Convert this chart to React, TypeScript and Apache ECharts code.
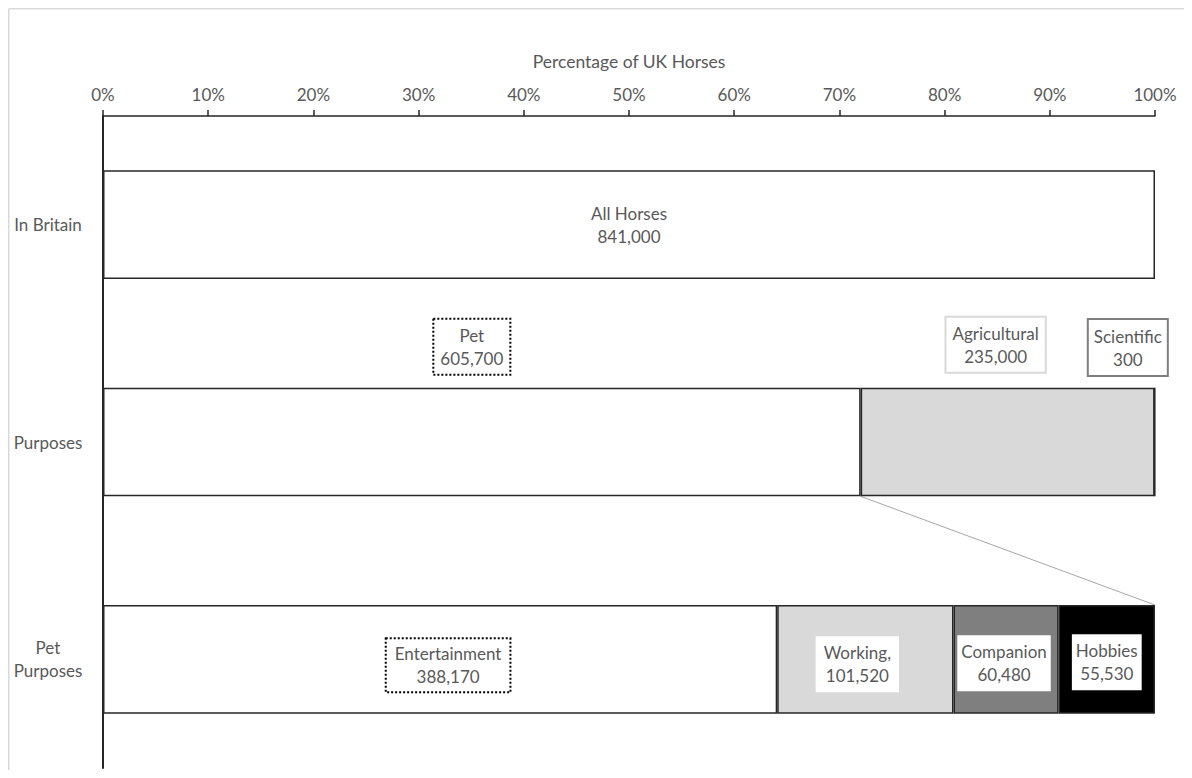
import React, { useEffect, useRef } from "react";
import * as echarts from "echarts";

const categories = ["In Britain", "Purposes", "Pet Purposes"];
const allHorsesLabel = "All Horses";
const allHorses = 841000;
const purposeNames = ["Pet", "Agricultural", "Scientific"];
const purposeValues = [605700, 235000, 300];
const petNames = ["Entertainment", "Working,", "Companion", "Hobbies"];
const petValues = [388170, 101520, 60480, 55530];
const tickLabels = ["0%", "10%", "20%", "30%", "40%", "50%", "60%", "70%", "80%", "90%", "100%"];

const FONT = "Lato";
const TXT = "#595959";
const EDGE = "#262626";

const fmt = (v: number) => v.toLocaleString("en-US");

function rowData(row: number, share: number) {
  return categories.map((_, i) => (i === row ? share : null));
}

export default function App() {
  const ref = useRef<HTMLDivElement>(null);
  useEffect(() => {
    if (!ref.current) return;
    const chart = echarts.init(ref.current, null, { renderer: "svg" });
    const purposeTotal = purposeValues.reduce((a, b) => a + b, 0);
    const petTotal = petValues.reduce((a, b) => a + b, 0);

    const baseLabel = {
      show: true,
      color: TXT,
      fontFamily: FONT,
      fontSize: 17,
      lineHeight: 23,
      align: "center" as const,
    };

    const purposeStyles = [
      { color: "#ffffff", label: { position: "top", distance: 13, offset: [-10, 0], borderType: "dotted", borderColor: "#000", borderWidth: 2, padding: [5, 7, 5, 7] } },
      { color: "#d9d9d9", label: { position: "top", distance: 15, offset: [-12, 0], borderColor: "#d9d9d9", borderWidth: 2, padding: [5, 7, 5, 7] } },
      { color: "#7f7f7f", label: { position: "top", distance: 11, offset: [-27, 0], borderColor: "#7f7f7f", borderWidth: 2, padding: [6, 6, 5, 6] } },
    ];
    const petStyles = [
      { color: "#ffffff", label: { position: "inside", offset: [8, 6], borderType: "dotted", borderColor: "#000", borderWidth: 2, padding: [4, 9, 4, 9] } },
      { color: "#d9d9d9", label: { position: "inside", offset: [-8, 5], backgroundColor: "#fff", padding: [5, 8, 5, 8] } },
      { color: "#7f7f7f", label: { position: "inside", offset: [-2, 4], backgroundColor: "#fff", padding: [5, 4, 5, 4] } },
      { color: "#000000", label: { position: "inside", offset: [0, 3], backgroundColor: "#fff", padding: [5, 4, 5, 4] } },
    ];

    const series: any[] = [];
    series.push({
      type: "bar",
      name: allHorsesLabel,
      stack: "all",
      barWidth: "50%",
      data: rowData(0, 1),
      itemStyle: { color: "#ffffff", borderColor: EDGE, borderWidth: 1.5 },
      label: { ...baseLabel, position: "inside", formatter: () => `${allHorsesLabel}\n${fmt(allHorses)}` },
    });
    purposeNames.forEach((n, i) => {
      series.push({
        type: "bar",
        name: n,
        stack: "all",
        barWidth: "50%",
        data: rowData(1, purposeValues[i] / purposeTotal),
        itemStyle: { color: purposeStyles[i].color, borderColor: EDGE, borderWidth: 1.5 },
        label: { ...baseLabel, ...purposeStyles[i].label, formatter: () => `${n}\n${fmt(purposeValues[i])}` },
      });
    });
    petNames.forEach((n, i) => {
      series.push({
        type: "bar",
        name: n,
        stack: "all",
        barWidth: "50%",
        data: rowData(2, petValues[i] / petTotal),
        itemStyle: { color: petStyles[i].color, borderColor: EDGE, borderWidth: 1.5 },
        label: { ...baseLabel, ...petStyles[i].label, formatter: () => `${n}\n${fmt(petValues[i])}` },
      });
    });
    // connector line from end of "Pet" segment to the end of the pet purposes bar
    series.push({
      type: "custom",
      name: "connector",
      silent: true,
      z: 1,
      data: [[purposeValues[0] / purposeTotal, 1, 1, 2]],
      encode: { x: [0, 2], y: [1, 3] },
      renderItem: (params: any, api: any) => {
        const p1 = api.coord([api.value(0), 1]);
        const p2 = api.coord([api.value(2), 2]);
        const band = api.size([0, 1])[1];
        const half = band * 0.25;
        return {
          type: "line",
          shape: { x1: p1[0], y1: p1[1] + half, x2: p2[0], y2: p2[1] - half },
          style: { stroke: "#a6a6a6", lineWidth: 1 },
        };
      },
    });

    chart.setOption({
      animation: false,
      backgroundColor: "#ffffff",
      textStyle: { fontFamily: FONT },
      grid: { left: 95, right: 29, top: 108, bottom: 2 },
      xAxis: {
        type: "value",
        position: "top",
        min: 0,
        max: 1,
        interval: 0.1,
        name: "Percentage of UK Horses",
        nameLocation: "middle",
        nameGap: 46,
        nameTextStyle: { color: TXT, fontSize: 17.5, fontFamily: FONT },
        axisLine: { show: true, lineStyle: { color: EDGE, width: 1.5 } },
        axisTick: { show: true, length: 6, lineStyle: { color: EDGE, width: 1.5 } },
        splitLine: { show: false },
        axisLabel: {
          color: TXT,
          fontSize: 17,
          fontFamily: FONT,
          margin: 13,
          formatter: (v: number) => tickLabels[Math.round(v * 10)],
        },
      },
      yAxis: {
        type: "category",
        inverse: true,
        data: categories.map((c) => (c === "Pet Purposes" ? "Pet\nPurposes" : c)),
        axisLine: { show: true, lineStyle: { color: EDGE, width: 2 } },
        axisTick: { show: false },
        axisLabel: { color: TXT, fontSize: 17, fontFamily: FONT, align: "center", margin: 55, lineHeight: 23 },
      },
      graphic: [
        { type: "line", shape: { x1: 0.75, y1: 0.75, x2: 1176, y2: 0.75 }, style: { stroke: "#d9d9d9", lineWidth: 1.5 }, silent: true },
        { type: "line", shape: { x1: 0.75, y1: 0.75, x2: 0.75, y2: 762 }, style: { stroke: "#d9d9d9", lineWidth: 1.5 }, silent: true },
      ],
      series,
    });
    return () => chart.dispose();
  }, []);
  return <div ref={ref} style={{ width: 1176, height: 762 }} />;
}
